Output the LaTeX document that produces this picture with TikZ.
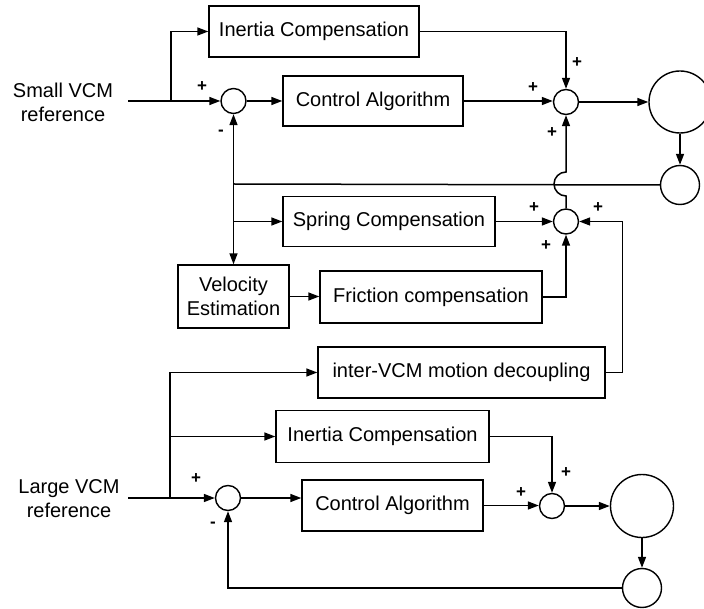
\documentclass[tikz,border=0pt]{standalone}
\usepackage{fontspec}
\setmainfont{Liberation Sans}
\usetikzlibrary{arrows.meta}
\tikzset{every node/.append style={font=\fontsize{20}{24}\selectfont}}
\tikzset{
    blk/.style={draw, line width=1.4pt, inner sep=0pt, minimum height=50pt},
    sumc/.style={draw, circle, line width=1.4pt, inner sep=0pt, minimum size=25pt},
    plant/.style={draw, circle, line width=1.4pt, inner sep=0pt},
    sgn/.style={font=\fontsize{17}{17}\selectfont\bfseries, inner sep=0pt}
}

\begin{document}
\begin{tikzpicture}[x=1pt, y=-1pt, line width=1.5pt, >={Stealth[length=11pt, width=8pt, inset=0pt]}]
    \useasboundingbox (0,0) rectangle (704,609);
    \node[align=center, inner sep=0pt] (refA) at (63,102) {Small VCM\\reference};
    \node[align=center, inner sep=0pt] (refB) at (69,499) {Large VCM\\reference};
    \coordinate (inA) at (128,101);
    \coordinate (brA) at (171,101);
    \coordinate (inB) at (128,498);
    \coordinate (brB) at (170,498);
    \node[blk, minimum width=210pt, minimum height=51pt] (inertiaA) at (314,31.5) {Inertia Compensation};
    \node[blk, minimum width=180pt] (ctrlA) at (373,101) {Control Algorithm};
    \node[blk, minimum width=212pt] (springA) at (389,221.5) {Spring Compensation};
    \node[blk, minimum width=111pt, minimum height=63pt, align=center] (velA) at (233.5,296.5) {Velocity\\Estimation};
    \node[blk, minimum width=222pt, minimum height=52pt] (fricA) at (431,297) {Friction compensation};
    \node[blk, minimum width=287pt, minimum height=51pt] (decouple) at (461.5,372.5) {inter-VCM motion decoupling};
    \node[blk, minimum width=213pt, minimum height=52pt] (inertiaB) at (382.5,436.5) {Inertia Compensation};
    \node[blk, minimum width=181pt, minimum height=51pt] (ctrlB) at (392.5,505.5) {Control Algorithm};
    \node[sumc] (sumA) at (233.5,101) {};
    \node[sumc] (addA) at (566,102) {};
    \node[sumc] (addC) at (566,221.5) {};
    \node[sumc] (sumB) at (228,498) {};
    \node[sumc] (addB) at (552,506) {};
    \node[plant, minimum size=62pt] (plantA) at (680,102) {};
    \node[plant, minimum size=39pt] (sensA) at (680,185) {};
    \node[plant, minimum size=63pt] (plantB) at (642,506) {};
    \node[plant, minimum size=39pt] (sensB) at (642,588) {};
    \coordinate (fbA) at (233.5,184);
    % small VCM loop
    \draw (inA) -- (brA);
    \draw[->] (brA) -- (sumA.west);
    \draw[->] (brA) |- (inertiaA.west);
    \draw[->] (sumA.east) -- (ctrlA.west);
    \draw[->] (inertiaA.east) -| (addA.north);
    \draw[->] (ctrlA.east) -- (ctrlA.east -| addA.west);
    \draw[->] (addA.east) -- (addA -| plantA.west);
    \draw[->] (plantA.south) -- (sensA.north);
    \draw (sensA.west) -- (fbA);
    \draw[->] (fbA) -- (sumA.south);
    \draw[->] (fbA) -- (velA.north);
    \draw[->] (fbA |- springA) -- (springA.west);
    \draw[->] (springA.east) -- (addC.west);
    \draw[->] (velA.east) -- (velA.east -| fricA.west);
    \draw[->] (fricA.east) -| (addC.south);
    \draw[->] (decouple.east) -- ++(17,0) |- (addC.east);
    \draw[->] (addC.north) -- ([yshift=-12pt]addC |- fbA) arc[start angle=90, end angle=270, radius=12] -- (addA.south);
    % large VCM loop
    \draw (inB) -- (brB);
    \draw[->] (brB) -- (sumB.west);
    \draw[->] (brB) |- (inertiaB.west);
    \draw[->] (brB) |- (decouple.west);
    \draw[->] (sumB.east) -- (sumB -| ctrlB.west);
    \draw[->] (inertiaB.east) -| (addB.north);
    \draw[->] (ctrlB.east) -- (ctrlB.east -| addB.west);
    \draw[->] (addB.east) -- (plantB.west);
    \draw[->] (plantB.south) -- (sensB.north);
    \draw[->] (sensB.west) -| (sumB.south);
    \foreach \x/\y/\s [count=\i] in {202/87/+, 221/133/-, 577/63/+, 533/88/+, 552/133/+,
        534/208/+, 598/208/+, 546/246/+, 196/479/+, 213/525/-, 566/473/+, 521/493/+} {
        \node[sgn] (sg\i) at (\x,\y) {\s};
    }
\end{tikzpicture}
\end{document}
